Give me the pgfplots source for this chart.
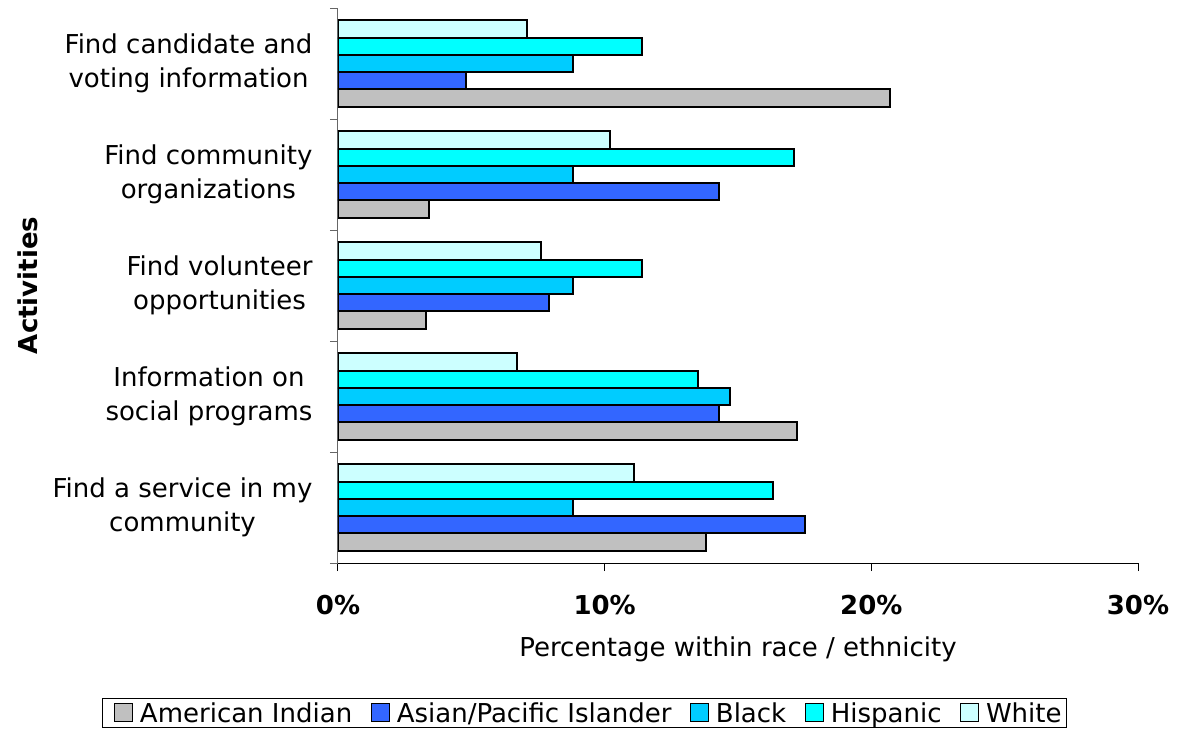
\documentclass[border=0pt]{standalone}
\usepackage{pgfplots}
\pgfplotsset{compat=1.18}
\usepackage{fontspec}
\setmainfont{DejaVu Sans}
\definecolor{amind}{HTML}{C0C0C0}
\definecolor{asian}{HTML}{3366FF}
\definecolor{blackc}{HTML}{00CCFF}
\definecolor{hisp}{HTML}{00FFFF}
\definecolor{whitec}{HTML}{CCFFFF}
\begin{document}
\begin{tikzpicture}
\begin{axis}[
  scale only axis, width=800pt, height=555pt,
  xbar=0pt, bar width=0.155,
  xmin=0, xmax=30, ymin=-0.5, ymax=4.5,
  axis x line*=bottom, axis y line*=left,
  x axis line style={black, line width=1pt},
  y axis line style={gray!80!black, line width=1pt},
  tick align=outside, major tick length=8pt, minor tick length=8pt,
  xtick={0,10,20,30}, xticklabels={0\%,10\%,20\%,30\%},
  xticklabel style={font=\fontsize{26}{30}\selectfont\bfseries, yshift=-21pt},
  major x tick style={black, line width=1pt},
  ytick={0,1,2,3,4},
  yticklabels={{Find a service in my\\community},{Information on\\social programs},{Find volunteer\\opportunities},{Find community\\organizations},{Find candidate and\\voting information}},
  yticklabel style={font=\fontsize{26}{34}\selectfont, align=center, xshift=-14pt},
  major y tick style={draw=none},
  minor ytick={-0.5,0.5,1.5,2.5,3.5,4.5},
  minor y tick style={draw=gray!80!black, line width=1pt},
  xlabel={Percentage within race / ethnicity},
  every axis x label/.style={at={(axis description cs:0.5,0)}, anchor=center, yshift=-86pt, font=\fontsize{26}{30}\selectfont},
  ylabel={Activities},
  every axis y label/.style={at={(axis description cs:-0.388,0.5)}, anchor=center, rotate=90, font=\fontsize{26}{30}\selectfont\bfseries},
  legend columns=5,
  legend style={at={(axis description cs:-0.295,-0.243)}, anchor=north west, draw=black, line width=1pt,
    font=\fontsize{26}{30}\selectfont, inner xsep=3pt, inner ysep=2pt,
    /tikz/every odd column/.append style={column sep=5pt},
    /tikz/every even column/.append style={column sep=8pt}},
  legend image code/.code={\path (0pt,0pt); \draw[#1, line width=1pt] (8pt,-9pt) rectangle (26pt,9pt);},
]
\addplot[fill=amind, draw=black, line width=2pt] coordinates {(13.8,0) (17.2,1) (3.3,2) (3.4,3) (20.7,4)};
\addplot[fill=asian, draw=black, line width=2pt] coordinates {(17.5,0) (14.3,1) (7.9,2) (14.3,3) (4.8,4)};
\addplot[fill=blackc, draw=black, line width=2pt] coordinates {(8.8,0) (14.7,1) (8.8,2) (8.8,3) (8.8,4)};
\addplot[fill=hisp, draw=black, line width=2pt] coordinates {(16.3,0) (13.5,1) (11.4,2) (17.1,3) (11.4,4)};
\addplot[fill=whitec, draw=black, line width=2pt] coordinates {(11.1,0) (6.7,1) (7.6,2) (10.2,3) (7.1,4)};
\legend{American Indian, Asian/Pacific Islander, Black, Hispanic, White}
\end{axis}
\pgfresetboundingbox
\path (-338pt,-169pt) rectangle (851pt,563pt);
\end{tikzpicture}
\end{document}
